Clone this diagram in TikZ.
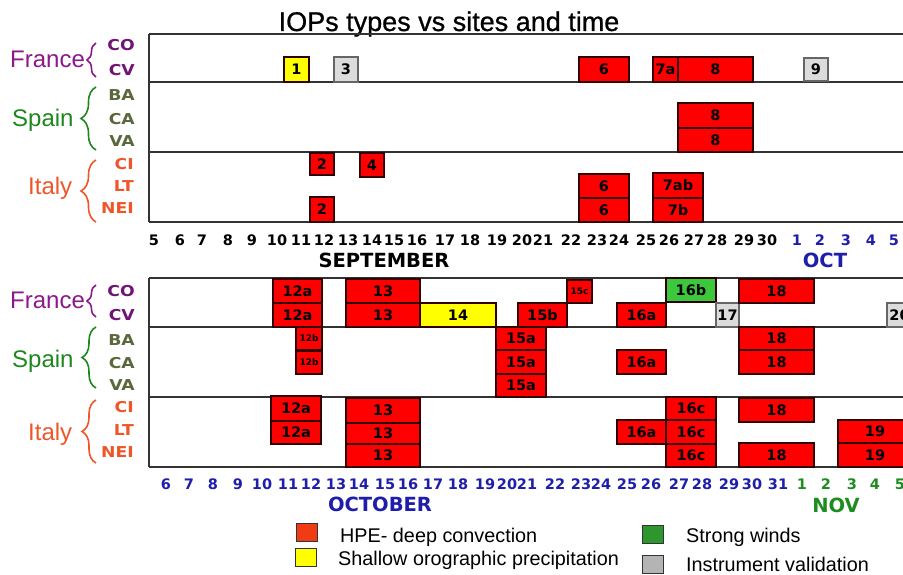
\documentclass[tikz,border=0pt]{standalone}
\usepackage{fontspec}
\setmainfont{Liberation Sans}
\newfontfamily\titlefont{Liberation Sans}[FakeBold=0.8]
\newfontfamily\numfont{DejaVu Sans}
\newfontfamily\sitefont{DejaVu Sans}[FakeStretch=1.15]
\usetikzlibrary{decorations.pathreplacing}

\definecolor{frcol}{RGB}{140,24,140}
\definecolor{frsite}{RGB}{112,20,118}
\definecolor{spcol}{RGB}{30,135,30}
\definecolor{spsite}{RGB}{90,105,60}
\definecolor{itcol}{RGB}{240,85,40}
\definecolor{boxred}{RGB}{255,0,0}
\definecolor{boxedge}{RGB}{50,0,0}
\definecolor{boxyel}{RGB}{255,255,0}
\definecolor{boxgray}{RGB}{220,220,220}
\definecolor{boxgreen}{RGB}{60,200,60}
\definecolor{octblue}{RGB}{30,30,170}
\definecolor{novgreen}{RGB}{30,140,30}
\definecolor{legred}{RGB}{240,60,20}
\definecolor{leggreen}{RGB}{45,150,45}
\definecolor{leggray}{RGB}{180,180,180}

% one IOP box: name, style, x0, x1, y0, y1 (pixels, y downwards), label
\newcommand\iop[7]{%
  \node[#2, minimum width={(#4-#3)*1pt}, minimum height={(#6-#5)*1pt}]
    (#1) at ({(#3+#4)/2},{(#5+#6)/2}) {#7};}

\begin{document}
\begin{tikzpicture}[x=1pt,y=-1pt,
  frame/.style={draw=black!80, line width=1.3pt},
  iopbox/.style={draw=boxedge, line width=1.3pt, inner sep=0pt, outer sep=0pt,
    font=\numfont\bfseries\fontsize{14.5}{14.5}\selectfont},
  hpe/.style={iopbox, fill=boxred},
  sor/.style={iopbox, fill=boxyel},
  wnd/.style={iopbox, fill=boxgreen},
  ival/.style={iopbox, fill=boxgray, draw=black!60},
  tiny/.style={font=\numfont\bfseries\fontsize{9}{9}\selectfont},
  country/.style={anchor=base west, inner sep=0pt, font=\fontsize{24}{24}\selectfont},
  site/.style={anchor=east, inner sep=0pt, font=\sitefont\bfseries\fontsize{15}{15}\selectfont},
  bracel/.style={decorate, line width=1.6pt},
  daylbl/.style={inner sep=0pt, font=\numfont\bfseries\fontsize{14.5}{14.5}\selectfont},
  monthlbl/.style={inner sep=0pt, font=\numfont\bfseries\fontsize{19.5}{19.5}\selectfont},
  legkey/.style={draw=black!80, line width=1pt, inner sep=0pt, minimum width=21pt, minimum height=18pt},
  legtxt/.style={anchor=base west, inner sep=0pt, font=\fontsize{19.8}{19.8}\selectfont}]

\useasboundingbox (0,0) rectangle (903,575);
\clip (0,0) rectangle (903,575);
\fill[white] (0,0) rectangle (903,575);

% title
\node[anchor=base, inner sep=0pt, font=\titlefont\fontsize{27}{27}\selectfont] (title) at (449,31)
  {IOPs types vs sites and time};

% ---------------- September panel ----------------
\draw[frame] (149,34) -- (910,34);
\draw[frame] (149,82) -- (910,82);
\draw[frame] (149,152) -- (910,152);
\draw[frame] (149,222) -- (910,222);
\draw[frame] (149,34) -- (149,222);

\node[country, text=frcol] (frT) at (10,68) {France};
\node[country, text=spcol] (spT) at (12,127) {Spain};
\node[country, text=itcol] (itT) at (28,195) {Italy};
\draw[bracel, frcol, decoration={brace, amplitude=9pt}] (96,77) -- (96,43);
\draw[bracel, spcol, decoration={brace, amplitude=15pt}] (96,150) -- (96,87);
\draw[bracel, itcol, decoration={brace, amplitude=15pt}] (96,222) -- (96,160);

\node[site, text=frsite] (coT) at (135,45) {CO};
\node[site, text=frsite] (cvT) at (135,70) {CV};
\node[site, text=spsite] (baT) at (135,95) {BA};
\node[site, text=spsite] (caT) at (135,119) {CA};
\node[site, text=spsite] (vaT) at (135,141) {VA};
\node[site, text=itcol] (ciT) at (134,164) {CI};
\node[site, text=itcol] (ltT) at (134,186) {LT};
\node[site, text=itcol] (neiT) at (134,208) {NEI};

\iop{i1}{sor}{284}{309}{57}{82}{1}
\iop{i3}{ival}{334}{358}{57}{82}{3}
\iop{i6cv}{hpe}{579}{629}{57}{82}{6}
\iop{i7a}{hpe}{653}{678}{57}{82}{7a}
\iop{i8cv}{hpe}{678}{753}{57}{82}{8}
\iop{i9}{ival}{804}{828}{58}{81}{9}
\iop{i8ca}{hpe}{678}{753}{103}{128}{8}
\iop{i8va}{hpe}{678}{753}{128}{152}{8}
\iop{i2ci}{hpe}{310}{334}{153}{175}{2}
\iop{i4ci}{hpe}{360}{384}{153}{177}{4}
\iop{i6lt}{hpe}{579}{629}{174}{198}{6}
\iop{i6nei}{hpe}{579}{629}{198}{222}{6}
\iop{i7ab}{hpe}{653}{703}{173}{198}{7ab}
\iop{i7b}{hpe}{653}{703}{198}{222}{7b}
\iop{i2nei}{hpe}{310}{334}{197}{222}{2}

\foreach \x/\d in {154/5,180/6,202/7,228/8,252/9,277/10,301/11,324/12,348/13,
  372/14,394/15,417/16,445/17,470/18,497/19,522/20,543/21,571/22,597/23,619/24,
  646/25,669/26,694/27,717/28,744/29,767/30}
  \node[daylbl] (ts\d) at (\x,240.5) {\d};
\foreach \x/\d in {797/1,820/2,846/3,871/4,894/5}
  \node[daylbl, text=octblue] (to\d) at (\x,240.5) {\d};
\node[monthlbl] (sep) at (384,260) {SEPTEMBER};
\node[monthlbl, text=octblue] (oct) at (825,260) {OCT};

% ---------------- October panel ----------------
\draw[frame] (149,278) -- (910,278);
\draw[frame] (149,327) -- (910,327);
\draw[frame] (149,397) -- (910,397);
\draw[frame] (149,467) -- (910,467);
\draw[frame] (149,278) -- (149,467);

\node[country, text=frcol] (frB) at (10,308) {France};
\node[country, text=spcol] (spB) at (12,367) {Spain};
\node[country, text=itcol] (itB) at (28,440) {Italy};
\draw[bracel, frcol, decoration={brace, amplitude=9pt}] (96,317) -- (96,285);
\draw[bracel, spcol, decoration={brace, amplitude=14pt}] (96,388) -- (96,327);
\draw[bracel, itcol, decoration={brace, amplitude=14pt}] (96,463) -- (96,400);

\node[site, text=frsite] (coB) at (135,291) {CO};
\node[site, text=frsite] (cvB) at (135,315) {CV};
\node[site, text=spsite] (baB) at (135,340) {BA};
\node[site, text=spsite] (caB) at (135,363) {CA};
\node[site, text=spsite] (vaB) at (135,385) {VA};
\node[site, text=itcol] (ciB) at (134,407) {CI};
\node[site, text=itcol] (ltB) at (134,430) {LT};
\node[site, text=itcol] (neiB) at (134,452) {NEI};

\iop{j12aco}{hpe}{273}{322}{279}{303}{12a}
\iop{j12acv}{hpe}{273}{322}{303}{327}{12a}
\iop{j13co}{hpe}{346}{420}{279}{303}{13}
\iop{j13cv}{hpe}{346}{420}{303}{327}{13}
\iop{j14}{sor}{420}{496}{303}{327}{14}
\iop{j15b}{hpe}{518}{567}{303}{327}{15b}
\iop{j15c}{hpe,tiny}{567}{592}{280}{303}{15c}
\iop{j16acv}{hpe}{617}{666}{303}{327}{16a}
\iop{j16b}{wnd}{666}{716}{278}{302}{16b}
\iop{j17}{ival}{716}{739}{303}{327}{17}
\iop{j18co}{hpe}{739}{814}{279}{303}{18}
\iop{j20}{ival}{887}{912}{303}{327}{20}
\iop{j12bba}{hpe,tiny}{296}{322}{327}{350}{12b}
\iop{j12bca}{hpe,tiny}{296}{322}{351}{374}{12b}
\iop{j15aba}{hpe}{496}{546}{327}{350}{15a}
\iop{j15aca}{hpe}{496}{546}{350}{374}{15a}
\iop{j15ava}{hpe}{496}{546}{374}{397}{15a}
\iop{j16aca}{hpe}{617}{666}{350}{374}{16a}
\iop{j18ba}{hpe}{739}{814}{327}{350}{18}
\iop{j18ca}{hpe}{739}{814}{350}{374}{18}
\iop{j12aci}{hpe}{271}{321}{396}{421}{12a}
\iop{j12alt}{hpe}{271}{321}{421}{444}{12a}
\iop{j13ci}{hpe}{346}{420}{398}{423}{13}
\iop{j13lt}{hpe}{346}{420}{423}{444}{13}
\iop{j13nei}{hpe}{346}{420}{444}{467}{13}
\iop{j16alt}{hpe}{617}{666}{420}{444}{16a}
\iop{j16cci}{hpe}{666}{716}{397}{420}{16c}
\iop{j16clt}{hpe}{666}{716}{420}{444}{16c}
\iop{j16cnei}{hpe}{666}{716}{444}{467}{16c}
\iop{j18ci}{hpe}{739}{814}{398}{422}{18}
\iop{j18nei}{hpe}{739}{814}{443}{467}{18}
\iop{j19lt}{hpe}{838}{912}{420}{443}{19}
\iop{j19nei}{hpe}{838}{912}{443}{467}{19}

\foreach \x/\d in {166/6,189/7,213/8,238/9,262/10,288/11,311/12,336/13,359/14,
  385/15,408/16,433/17,458/18,485/19,507/20,527/21,555/22,581/23,601/24,627/25,
  651/26,679/27,702/28,729/29,752/30,778/31}
  \node[daylbl, text=octblue] (bo\d) at (\x,484) {\d};
\foreach \x/\d in {802/1,826/2,852/3,875/4,900/5}
  \node[daylbl, text=novgreen] (bn\d) at (\x,484) {\d};
\node[monthlbl, text=octblue] (octb) at (380,504) {OCTOBER};
\node[monthlbl, text=novgreen] (nov) at (836,505) {NOV};

% ---------------- legend ----------------
\node[legkey, fill=legred] (kHPE) at (306.5,532) {};
\node[legkey, fill=boxyel] (kSOP) at (306,557) {};
\node[legkey, fill=leggreen] (kSW) at (653,534) {};
\node[legkey, fill=leggray] (kIV) at (653,564) {};
\node[legtxt] (tHPE) at (340,542) {HPE- deep convection};
\node[legtxt] (tSOP) at (338,565) {Shallow orographic precipitation};
\node[legtxt] (tSW) at (686,542) {Strong winds};
\node[legtxt] (tIV) at (686,571) {Instrument validation};
\end{tikzpicture}
\end{document}
